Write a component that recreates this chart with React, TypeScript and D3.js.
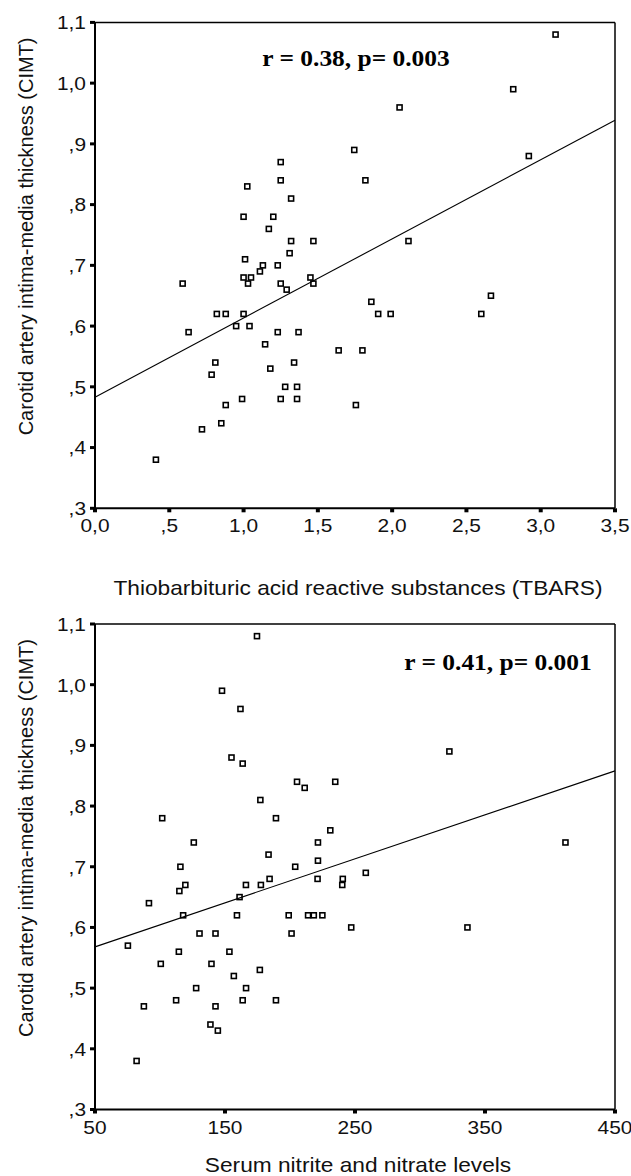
import React, { useEffect, useRef } from 'react';
import * as d3 from 'd3';

// TBARS vs CIMT (top panel)
const tbarsValues = [0.41, 0.59, 0.63, 0.72, 0.785, 0.81, 0.82, 0.85, 0.88, 0.88, 0.95, 0.99, 1.0, 1.0, 1.0, 1.01, 1.025, 1.03, 1.04, 1.05, 1.11, 1.13, 1.145, 1.17, 1.18, 1.2, 1.23, 1.23, 1.25, 1.25, 1.25, 1.25, 1.28, 1.29, 1.31, 1.32, 1.32, 1.34, 1.36, 1.36, 1.37, 1.45, 1.47, 1.47, 1.64, 1.745, 1.756, 1.8, 1.82, 1.86, 1.906, 1.99, 2.05, 2.11, 2.6, 2.665, 2.815, 2.92, 3.1];
const tbarsCimt = [0.38, 0.67, 0.59, 0.43, 0.52, 0.54, 0.62, 0.44, 0.47, 0.62, 0.6, 0.48, 0.62, 0.68, 0.78, 0.71, 0.83, 0.67, 0.6, 0.68, 0.69, 0.7, 0.57, 0.76, 0.53, 0.78, 0.7, 0.59, 0.87, 0.84, 0.67, 0.48, 0.5, 0.66, 0.72, 0.81, 0.74, 0.54, 0.5, 0.48, 0.59, 0.68, 0.67, 0.74, 0.56, 0.89, 0.47, 0.56, 0.84, 0.64, 0.62, 0.62, 0.96, 0.74, 0.62, 0.65, 0.99, 0.88, 1.08];
const tbarsFit = [0.483, 0.939]; // fitted CIMT at x = 0 and x = 3.5
const tbarsTicks = [0, 0.5, 1, 1.5, 2, 2.5, 3, 3.5];
const tbarsTickLabels = ['0,0', ',5', '1,0', '1,5', '2,0', '2,5', '3,0', '3,5'];

// Nitrite/nitrate vs CIMT (bottom panel)
const nitrateValues = [75.3, 82, 87.6, 91.5, 100.6, 101.7, 112.4, 114.5, 114.9, 115.7, 117.8, 119.5, 126, 127.8, 130.4, 138.8, 139.6, 142.7, 142.7, 144.5, 147.7, 153.4, 155, 156.8, 159.2, 161.2, 161.9, 163.6, 163.6, 166.1, 166.2, 174.6, 176.8, 177.2, 177.6, 183.5, 184.3, 189.2, 189.2, 199, 201.2, 204, 205.4, 211.3, 213.9, 218.3, 221.2, 221.5, 221.5, 224.9, 231, 234.8, 240.2, 240.6, 247.1, 258.3, 322.6, 336.5, 411.9];
const nitrateCimt = [0.57, 0.38, 0.47, 0.64, 0.54, 0.78, 0.48, 0.56, 0.66, 0.7, 0.62, 0.67, 0.74, 0.5, 0.59, 0.44, 0.54, 0.59, 0.47, 0.43, 0.99, 0.56, 0.88, 0.52, 0.62, 0.65, 0.96, 0.87, 0.48, 0.67, 0.5, 1.08, 0.53, 0.81, 0.67, 0.72, 0.68, 0.78, 0.48, 0.62, 0.59, 0.7, 0.84, 0.83, 0.62, 0.62, 0.68, 0.74, 0.71, 0.62, 0.76, 0.84, 0.67, 0.68, 0.6, 0.69, 0.89, 0.6, 0.74];
const nitrateFit = [0.568, 0.858]; // fitted CIMT at x = 50 and x = 450
const nitrateTicks = [50, 150, 250, 350, 450];
const nitrateTickLabels = ['50', '150', '250', '350', '450'];

const cimtTicks = [0.3, 0.4, 0.5, 0.6, 0.7, 0.8, 0.9, 1.0, 1.1];
const cimtTickLabels = [',3', ',4', ',5', ',6', ',7', ',8', ',9', '1,0', '1,1'];

const yTitle = 'Carotid artery intima-media thickness (CIMT)';

const panels = [
  {
    xs: tbarsValues, ys: tbarsCimt, fit: tbarsFit,
    xDomain: [0, 3.5], xTicks: tbarsTicks, xLabels: tbarsTickLabels,
    top: 22.4, bottom: 508.3,
    note: 'r = 0.38, p= 0.003', noteX: 356, noteY: 66,
    xTitle: 'Thiobarbituric acid reactive substances (TBARS)', xTitleY: 595,
  },
  {
    xs: nitrateValues, ys: nitrateCimt, fit: nitrateFit,
    xDomain: [50, 450], xTicks: nitrateTicks, xLabels: nitrateTickLabels,
    top: 624, bottom: 1109.5,
    note: 'r = 0.41, p= 0.001', noteX: 498, noteY: 670,
    xTitle: 'Serum nitrite and nitrate levels', xTitleY: 1172,
  },
];

const sans = 'Arial, "Liberation Sans", sans-serif';
const serif = '"Times New Roman", "Liberation Serif", serif';

// horizontally widened text, like the original (slightly stretched) figure
const addText = (g, x, y, str, opts) => {
  const t = g.append('text')
    .attr('transform', `translate(${x},${y}) scale(${opts.sx || 1},1)`)
    .attr('text-anchor', opts.anchor || 'middle')
    .attr('font-family', opts.family || sans)
    .attr('font-size', opts.size)
    .attr('fill', opts.fill || '#111')
    .text(str);
  if (opts.bold) t.attr('font-weight', 'bold');
  if (opts.dy) t.attr('dy', opts.dy);
  return t;
};

const App = () => {
  const svgRef = useRef(null);

  useEffect(() => {
    const svg = d3.select(svgRef.current);
    svg.selectAll('*').remove();

    const left = 95;
    const right = 615;

    panels.forEach((p) => {
      const x = d3.scaleLinear().domain(p.xDomain).range([left, right]);
      const y = d3.scaleLinear().domain([0.3, 1.1]).range([p.bottom, p.top]);
      const g = svg.append('g');

      // frame: thin top/right, heavier left/bottom
      g.append('line').attr('x1', left).attr('x2', right).attr('y1', p.top).attr('y2', p.top)
        .attr('stroke', '#000').attr('stroke-width', 1.5);
      g.append('line').attr('x1', right).attr('x2', right).attr('y1', p.top).attr('y2', p.bottom)
        .attr('stroke', '#000').attr('stroke-width', 1.5);
      g.append('line').attr('x1', left).attr('x2', left).attr('y1', p.top).attr('y2', p.bottom)
        .attr('stroke', '#000').attr('stroke-width', 2);
      g.append('line').attr('x1', left).attr('x2', right).attr('y1', p.bottom).attr('y2', p.bottom)
        .attr('stroke', '#000').attr('stroke-width', 2);

      // y ticks
      cimtTicks.forEach((t, i) => {
        g.append('rect').attr('x', left - 5).attr('y', y(t) - 1.5).attr('width', 5).attr('height', 3).attr('fill', '#000');
        addText(g, left - 9, y(t), cimtTickLabels[i], { size: 19, sx: 1.1, anchor: 'end', dy: '0.36em' });
      });

      // x ticks
      p.xTicks.forEach((t, i) => {
        g.append('rect').attr('x', x(t) - 2).attr('y', p.bottom).attr('width', 4).attr('height', 4).attr('fill', '#000');
        addText(g, x(t), p.bottom + 24, p.xLabels[i], { size: 19, sx: 1.1 });
      });

      // regression line
      g.append('line')
        .attr('x1', x(p.xDomain[0])).attr('y1', y(p.fit[0]))
        .attr('x2', x(p.xDomain[1])).attr('y2', y(p.fit[1]))
        .attr('stroke', '#000').attr('stroke-width', 1.1);

      // points
      const s = 5;
      g.selectAll('rect.pt')
        .data(p.xs.map((v, i) => [v, p.ys[i]]))
        .join('rect')
        .attr('class', 'pt')
        .attr('x', (d) => x(d[0]) - s / 2)
        .attr('y', (d) => y(d[1]) - s / 2)
        .attr('width', s).attr('height', s)
        .attr('fill', 'none').attr('stroke', '#000').attr('stroke-width', 1.6);

      // annotation
      addText(g, p.noteX, p.noteY, p.note, { size: 24, sx: 1.06, family: serif, bold: true, fill: '#000' });

      // axis titles
      addText(g, 358, p.xTitleY, p.xTitle, { size: 20, sx: 1.135 });
      g.append('text')
        .attr('transform', `translate(33,${p.top + 214}) rotate(-90)`)
        .attr('text-anchor', 'middle').attr('font-family', sans).attr('font-size', 20).attr('fill', '#111')
        .text(yTitle);
    });
  }, []);

  return (
    <div style={{ position: 'absolute', left: 0, top: 0, background: '#fff' }}>
      <svg ref={svgRef} width={631} height={1176} style={{ display: 'block' }}></svg>
    </div>
  );
};

export default App;
